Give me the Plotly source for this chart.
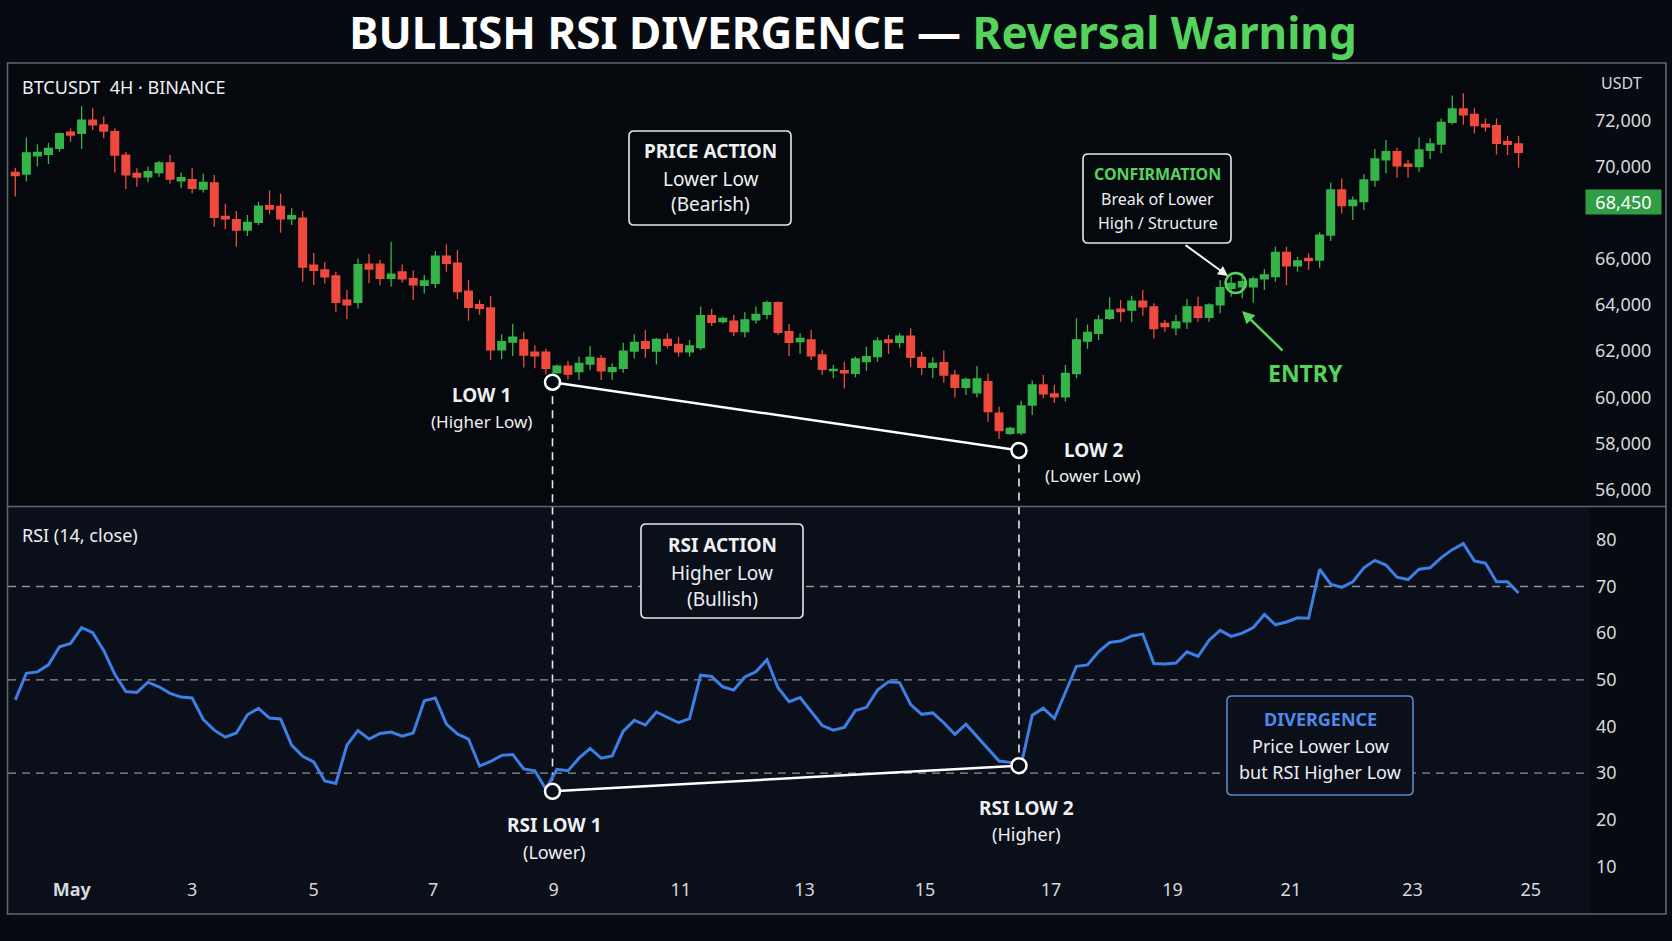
import plotly.graph_objects as go

# ---------------- data ----------------
opens = [69750, 69680, 70470, 70530, 70790, 71490, 71440, 72010, 71810, 71520,
         70500, 69710, 69560, 69740, 70160, 69380, 69430, 69030, 69290, 67840,
         67700, 67250, 67580, 68310, 68280, 67730, 67760, 65730, 65520, 65260,
         64210, 64110, 65770, 65770, 65150, 65430, 65140, 64850, 64940, 66120,
         65810, 64600, 64010, 63870, 62050, 62390, 62490, 61950, 61950, 61060,
         61350, 61110, 61440, 61680, 61110, 61250, 62000, 62410, 62000, 62510,
         62290, 61970, 62150, 63540, 63280, 63300, 62840, 63350, 63590, 64100,
         62840, 62410, 62480, 61830, 61150, 61150, 61030, 61540, 61760, 62480,
         62380, 62650, 61730, 61290, 61500, 60960, 60430, 60190, 60670, 59310,
         58430, 58450, 59660, 60530, 60140, 60020, 61020, 62430, 62770, 63420,
         63820, 63780, 64170, 63920, 63200, 63010, 63270, 63920, 63460, 64000,
         64720, 64790, 64790, 65130, 65230, 66280, 65700, 66020, 65950, 67030,
         68990, 68310, 68480, 69420, 70290, 70650, 70110, 70000, 70710, 70980,
         71920, 72500, 72270, 71830, 71780, 71080, 70980]
highs = [69950, 71260, 70970, 71040, 71470, 71660, 72630, 72530, 72170, 71660,
         70650, 69930, 70000, 70240, 70500, 69740, 69950, 69690, 69640, 68390,
         68070, 67900, 68480, 68960, 68830, 68190, 68070, 66250, 65860, 65440,
         64650, 66020, 66220, 65960, 66740, 65750, 65500, 65300, 66340, 66630,
         66380, 65080, 64230, 64400, 62730, 63190, 62820, 62250, 62100, 61420,
         61580, 61760, 62220, 61830, 61470, 62360, 62730, 62910, 62580, 62770,
         62600, 62480, 63930, 63820, 63490, 63560, 63680, 63930, 64190, 64150,
         63170, 62770, 62910, 62050, 61400, 61540, 61760, 62190, 62600, 62700,
         62770, 62990, 61970, 61730, 62020, 61180, 60850, 61350, 61030, 59590,
         58720, 59850, 60720, 60960, 60530, 61400, 63420, 63150, 63560, 64330,
         64210, 64400, 64650, 64070, 63350, 63560, 64260, 64360, 64070, 65080,
         65230, 65370, 65230, 65560, 66530, 66530, 66090, 66240, 67150, 69300,
         69490, 68700, 69670, 70760, 71150, 70820, 70290, 71260, 71230, 72090,
         73080, 73180, 72530, 72090, 72090, 71340, 71340]
lows = [68700, 69350, 70000, 70110, 70650, 71080, 70760, 71590, 71230, 69750,
        69030, 69130, 69320, 69560, 69270, 69060, 68840, 68880, 67390, 67280,
        66530, 66990, 67470, 67930, 67130, 67470, 65010, 64870, 64930, 63680,
        63390, 63850, 64940, 64850, 64790, 64960, 64210, 64500, 64740, 65440,
        64250, 63310, 63580, 61610, 61660, 61790, 61290, 61250, 61000, 61030,
        60770, 60740, 61180, 60740, 60740, 61060, 61680, 61710, 61420, 62120,
        61760, 61760, 62050, 63090, 63200, 62650, 62600, 63200, 63380, 62700,
        61790, 61870, 61610, 60960, 60820, 60380, 60860, 61150, 61540, 61870,
        62120, 61320, 60960, 60820, 60630, 59990, 60090, 59990, 58940, 58190,
        58360, 58360, 59230, 59950, 59760, 59810, 60820, 62100, 62480, 63350,
        63270, 63250, 63530, 62550, 62840, 62700, 62960, 63270, 63270, 63640,
        64360, 64290, 64110, 64650, 65010, 64860, 65440, 65520, 65590, 66770,
        67970, 67680, 68120, 69130, 69710, 69520, 69520, 69780, 70330, 70580,
        71830, 71830, 71440, 71520, 70530, 70500, 69950]
closes = [69610, 70600, 70620, 70790, 71430, 71370, 72010, 71810, 71540, 70500,
          69640, 69550, 69780, 70160, 69460, 69520, 69060, 69320, 67800, 67730,
          67250, 67580, 68290, 68160, 67730, 67870, 65640, 65500, 65220, 64110,
          64000, 65750, 65560, 65150, 65340, 65130, 64870, 65040, 66120, 65810,
          64580, 63900, 63850, 62050, 62410, 62600, 61830, 61790, 61250, 61350,
          61000, 61470, 61730, 61140, 61280, 62000, 62380, 62120, 62510, 62250,
          61970, 62220, 63540, 63250, 63420, 62840, 63350, 63590, 64100, 62810,
          62380, 62550, 61790, 61210, 61210, 61060, 61660, 61760, 62440, 62380,
          62650, 61730, 61290, 61470, 60960, 60430, 60770, 60790, 59370, 58550,
          58650, 59620, 60530, 60140, 60020, 61030, 62490, 62810, 63350, 63780,
          63710, 64170, 63920, 62980, 63060, 63270, 63920, 63460, 64000, 64750,
          64940, 65010, 65130, 65300, 66280, 65700, 65910, 65920, 67030, 68990,
          68310, 68550, 69420, 70330, 70650, 70030, 70010, 70720, 70980, 71920,
          72500, 72240, 71780, 71720, 71010, 70970, 70620]
rsi = [45.7, 51.4, 51.7, 53.2, 57.1, 57.8, 61.2, 60.1, 56.3, 51.2,
       47.5, 47.3, 49.5, 48.5, 47.1, 46.3, 46.1, 41.5, 39.2, 37.7,
       38.6, 42.5, 43.9, 41.8, 41.6, 36.0, 33.6, 32.4, 28.3, 27.8,
       36.0, 39.1, 37.3, 38.5, 38.8, 37.9, 38.6, 45.5, 46.1, 40.5,
       38.4, 37.3, 31.5, 32.5, 33.8, 34.0, 30.9, 30.5, 26.6,
       30.8, 30.5, 33.2, 35.3, 33.2, 33.7, 39.0, 41.3, 40.3, 43.1, 41.9,
       40.8, 41.7, 51.0, 50.7, 48.5, 47.8, 50.6, 51.7, 54.3, 48.3,
       45.3, 46.2, 43.3, 40.2, 39.2, 39.8, 43.4, 44.1, 47.8, 49.6,
       49.4, 44.7, 42.6, 42.9, 40.8, 38.3, 40.5, 37.9, 35.3, 32.6,
       32.3, 31.8, 42.4, 43.9, 41.7, 47.1, 52.9, 53.2, 56.0, 58.0,
       58.3, 59.4, 59.8, 53.5, 53.4, 53.6, 56.0, 55.0, 58.5, 60.6,
       59.3, 60.0, 61.2, 64.0, 61.8, 62.4, 63.3, 63.2, 73.7, 70.5,
       69.8, 71.0, 74.0, 75.6, 74.6, 72.0, 71.5, 73.7, 74.0, 76.2,
       77.9, 79.2, 75.5, 75.0, 71.0, 71.0, 68.6]

x_tick_pos = [5.1, 16.0, 27.0, 37.8, 48.7, 60.2, 71.4, 82.3, 93.7, 104.7, 115.4, 126.4, 137.1]
x_tick_text = ["<b>May</b>", "3", "5", "7", "9", "11", "13", "15", "17", "19", "21", "23", "25"]
price_ticks = [56000, 58000, 60000, 62000, 64000, 66000, 70000, 72000]
rsi_ticks = [10, 20, 30, 40, 50, 60, 70, 80]
rsi_levels = [30, 50, 70]
div_idx = [48.6, 90.8]
div_price = [60650, 57690]
div_rsi = [26.1, 31.6]
entry_idx = [110.4]
entry_price = [64950]
last_price = 68450

# ---------------- style / geometry ----------------
FONT = "Noto Sans"
TXT = "#eef0f3"
TICK = "#d6d9de"
GREEN = "#35b44a"
RED = "#ef4a3e"
GREEN_TXT = "#55d35c"
BLUE = "#3d7fe4"
PAGE_BG = "#070a10"
PRICE_BG = "#05080d"
RSI_BG = "#0a0f1a"
FRAME = "#62666e"

W, H = 1672, 941
ML, MR, MT, MB = 8, 82, 63, 64
PW = W - ML - MR
PH = H - MT - MB
SPLIT = (H - MB - 506.5) / PH          # boundary between panes (paper)
FR_R = (1666 - ML) / PW                # right edge of frame (paper)
FR_B = (H - MB - 914) / PH             # bottom edge of frame (paper)

PRICE_RANGE = [55259, 74494]
RSI_RANGE = [7.73, 87.15]
X_RANGE = [-0.66, 142.46]


def px(x):
    return (x - ML) / PW


def py(y):
    return (H - MB - y) / PH


idx = list(range(len(opens)))

fig = go.Figure()

fig.add_trace(go.Candlestick(
    x=idx, open=opens, high=highs, low=lows, close=closes,
    increasing=dict(line=dict(color=GREEN, width=1.3), fillcolor=GREEN),
    decreasing=dict(line=dict(color=RED, width=1.3), fillcolor=RED),
    xaxis="x", yaxis="y", showlegend=False, hoverinfo="skip"))

fig.add_trace(go.Scatter(
    x=idx, y=rsi, mode="lines", xaxis="x", yaxis="y2",
    line=dict(color=BLUE, width=3), showlegend=False, hoverinfo="skip"))

# divergence lines + circles
fig.add_trace(go.Scatter(
    x=div_idx, y=div_price, mode="lines+markers", xaxis="x", yaxis="y",
    line=dict(color="white", width=2.5),
    marker=dict(symbol="circle", size=15, color=PRICE_BG, line=dict(color="white", width=2.5)),
    showlegend=False, hoverinfo="skip"))
fig.add_trace(go.Scatter(
    x=div_idx, y=div_rsi, mode="lines+markers", xaxis="x", yaxis="y2",
    line=dict(color="white", width=2.5),
    marker=dict(symbol="circle", size=15, color=RSI_BG, line=dict(color="white", width=2.5)),
    showlegend=False, hoverinfo="skip"))
fig.add_trace(go.Scatter(
    x=entry_idx, y=entry_price, mode="markers", xaxis="x", yaxis="y",
    marker=dict(symbol="circle-open", size=20, color=GREEN_TXT, line=dict(width=2.5)),
    showlegend=False, hoverinfo="skip"))

shapes = []
# pane backgrounds
shapes.append(dict(type="rect", xref="paper", yref="paper", x0=0, x1=1, y0=SPLIT, y1=1,
                   fillcolor=PRICE_BG, line=dict(width=0), layer="below"))
shapes.append(dict(type="rect", xref="paper", yref="paper", x0=0, x1=1, y0=FR_B, y1=SPLIT,
                   fillcolor=RSI_BG, line=dict(width=0), layer="below"))
# rsi levels
for lv in rsi_levels:
    shapes.append(dict(type="line", xref="paper", yref="y2", x0=0, x1=1, y0=lv, y1=lv,
                       line=dict(color="#8e939b", width=1.3, dash="8px,6px"), layer="below"))
# vertical dashed connectors
for xi, pv, rv in zip(div_idx, div_price, div_rsi):
    shapes.append(dict(type="line", xref="x", yref="y", x0=xi, x1=xi, y0=pv, y1=PRICE_RANGE[0],
                       line=dict(color="#e8e8e8", width=1.6, dash="8px,6px"), layer="below"))
    shapes.append(dict(type="line", xref="x", yref="y2", x0=xi, x1=xi, y0=RSI_RANGE[1], y1=rv,
                       line=dict(color="#e8e8e8", width=1.6, dash="8px,6px"), layer="below"))
# frame and separator
shapes.append(dict(type="rect", xref="paper", yref="paper", x0=px(7.5), x1=FR_R, y0=FR_B, y1=1,
                   line=dict(color=FRAME, width=1.6), fillcolor="rgba(0,0,0,0)", layer="above"))
shapes.append(dict(type="line", xref="paper", yref="paper", x0=px(7.5), x1=FR_R, y0=SPLIT, y1=SPLIT,
                   line=dict(color=FRAME, width=1.6), layer="above"))


def box(x0, y0, x1, y1, color, fill, r=5):
    p = (f"M{px(x0 + r)},{py(y0)} L{px(x1 - r)},{py(y0)} Q{px(x1)},{py(y0)} {px(x1)},{py(y0 + r)} "
         f"L{px(x1)},{py(y1 - r)} Q{px(x1)},{py(y1)} {px(x1 - r)},{py(y1)} "
         f"L{px(x0 + r)},{py(y1)} Q{px(x0)},{py(y1)} {px(x0)},{py(y1 - r)} "
         f"L{px(x0)},{py(y0 + r)} Q{px(x0)},{py(y0)} {px(x0 + r)},{py(y0)} Z")
    shapes.append(dict(type="path", xref="paper", yref="paper", path=p,
                       line=dict(color=color, width=1.6), fillcolor=fill, layer="above"))


box(629, 131, 791, 225, "#e6e8ec", PRICE_BG)
box(641, 524, 803, 618, "#e6e8ec", RSI_BG)
box(1083, 154, 1231, 243, "#e6e8ec", PRICE_BG)
box(1227, 696, 1413, 795, "#5a86d2", RSI_BG)

ann = []


def label(x, y, text, size, color=TXT, bold=False, xanchor="center"):
    ann.append(dict(x=px(x), y=py(y), xref="paper", yref="paper",
                    text=f"<b>{text}</b>" if bold else text, showarrow=False,
                    font=dict(size=size, color=color, family=FONT),
                    xanchor=xanchor, yanchor="middle"))


label(20, 87.5, "BTCUSDT&nbsp;&nbsp;4H · BINANCE", 18, xanchor="left")
label(20, 535, "RSI (14, close)", 18, xanchor="left")
label(1599, 83, "USDT", 16, color=TICK, xanchor="left")

label(710.5, 151, "PRICE ACTION", 19, bold=True)
label(710.5, 178.5, "Lower Low", 19)
label(710.5, 204.5, "(Bearish)", 19)

label(722, 545, "RSI ACTION", 19, bold=True)
label(722, 572.5, "Higher Low", 19)
label(722, 598.5, "(Bullish)", 19)

label(1157.5, 174.5, "CONFIRMATION", 16, color=GREEN_TXT, bold=True)
label(1157.5, 199, "Break of Lower", 16)
label(1157.5, 223, "High / Structure", 16)

label(1320, 718.5, "DIVERGENCE", 18, color="#4f8ae8", bold=True)
label(1320, 746, "Price Lower Low", 18)
label(1320, 772, "but RSI Higher Low", 18)

label(481.5, 395, "LOW 1", 19, bold=True)
label(481.5, 421, "(Higher Low)", 17)
label(1093, 449.5, "LOW 2", 19, bold=True)
label(1093, 475, "(Lower Low)", 17)
label(554.5, 824.5, "RSI LOW 1", 19, bold=True)
label(554.5, 851.5, "(Lower)", 18)
label(1026.5, 807.5, "RSI LOW 2", 19, bold=True)
label(1026.5, 833.5, "(Higher)", 18)

label(1305.5, 373.5, "ENTRY", 23, color=GREEN_TXT, bold=True)

# arrows
ann.append(dict(x=px(1242), y=py(311), xref="paper", yref="paper", ax=1284 - 1242, ay=352 - 311,
                axref="pixel", ayref="pixel", showarrow=True, arrowhead=2, arrowsize=1,
                arrowwidth=2.5, arrowcolor=GREEN_TXT, text=""))
ann.append(dict(x=px(1228), y=py(276), xref="paper", yref="paper", ax=1184 - 1228, ay=244 - 276,
                axref="pixel", ayref="pixel", showarrow=True, arrowhead=2, arrowsize=1,
                arrowwidth=2, arrowcolor="#f2f2f2", text=""))

# last price badge
ann.append(dict(x=px(1585), y=last_price, xref="paper", yref="y", text=f"{last_price:,}",
                showarrow=False, xanchor="left", yanchor="middle",
                font=dict(size=18, color="white", family=FONT),
                bgcolor="#2f9e45", borderpad=3, width=69, height=18))

fig.update_layout(
    width=W, height=H, autosize=False,
    margin=dict(l=ML, r=MR, t=MT, b=MB),
    paper_bgcolor=PAGE_BG, plot_bgcolor=PRICE_BG,
    font=dict(family=FONT, color=TXT),
    showlegend=False,
    boxgap=0.3, boxgroupgap=0.0, boxmode="overlay",
    title=dict(text=f"<b>BULLISH RSI DIVERGENCE — <span style='color:{GREEN_TXT}'>Reversal Warning</span></b>",
               font=dict(size=44, color="white", family=FONT),
               x=853 / W, xanchor="center", y=1 - 34 / H, yanchor="middle"),
    xaxis=dict(domain=[0, 1], range=X_RANGE, anchor="y2", tickvals=x_tick_pos, ticktext=x_tick_text,
               showgrid=False, zeroline=False, showline=False, ticks="",
               tickfont=dict(size=18, color=TICK), rangeslider=dict(visible=False), fixedrange=True),
    yaxis=dict(domain=[SPLIT, 1], range=PRICE_RANGE, side="right", anchor="x",
               tickvals=price_ticks, ticktext=[f"{v:,}" for v in price_ticks],
               showgrid=False, zeroline=False, showline=False, ticks="", ticklabelstandoff=4,
               tickfont=dict(size=18, color=TICK)),
    yaxis2=dict(domain=[0, SPLIT], range=RSI_RANGE, side="right", anchor="x",
                tickvals=rsi_ticks, ticktext=[str(v) for v in rsi_ticks],
                showgrid=False, zeroline=False, showline=False, ticks="", ticklabelstandoff=5,
                tickfont=dict(size=18, color=TICK)),
    shapes=shapes, annotations=ann,
)

fig.write_html("out.html")
